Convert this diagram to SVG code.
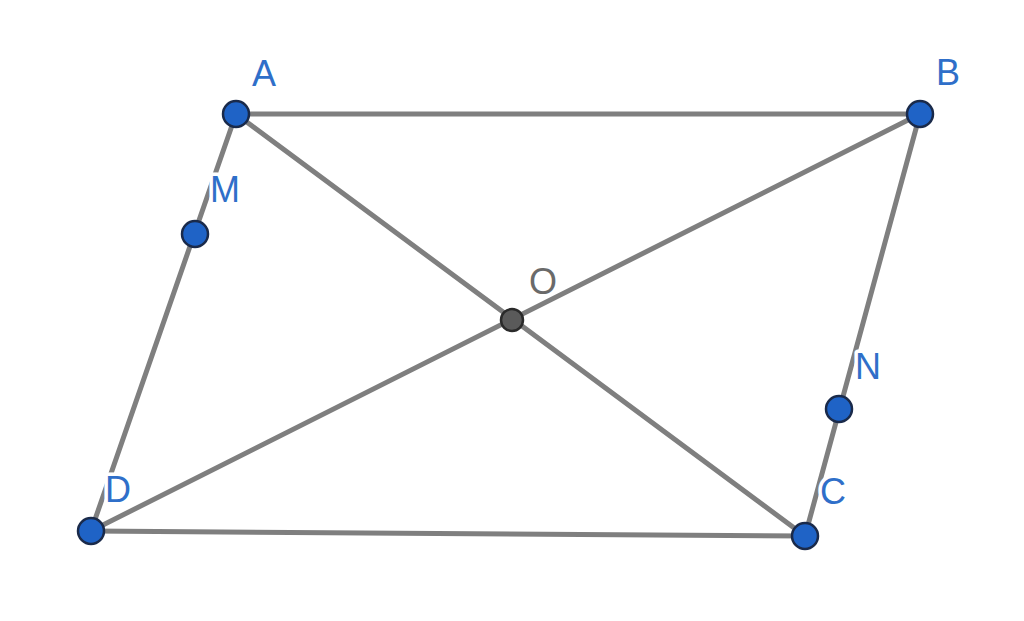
<svg xmlns="http://www.w3.org/2000/svg" width="1024" height="621" viewBox="0 0 1024 621">
<style>
.l{stroke:#7f7f7f;stroke-width:5;stroke-linecap:round;fill:none}
.p{fill:#1f63c6;stroke:#1a2a4a;stroke-width:2.5}
.t{font-family:"Liberation Sans",Arial,sans-serif;font-size:36px;fill:#2f6fc9;text-anchor:middle;stroke:#fff;stroke-width:7;paint-order:stroke;stroke-linejoin:round}
</style>
<rect width="1024" height="621" fill="#fff"/>
<g id="connectors">
<line class="l" x1="236" y1="114" x2="920" y2="114"/>
<line class="l" x1="920" y1="114" x2="805" y2="536"/>
<line class="l" x1="805" y1="536" x2="91" y2="531"/>
<line class="l" x1="91" y1="531" x2="236" y2="114"/>
<line class="l" x1="236" y1="114" x2="805" y2="536"/>
<line class="l" x1="920" y1="114" x2="91" y2="531"/>
</g>
<g id="A"><circle class="p" cx="236" cy="114" r="13"/><text class="t" x="264" y="86">A</text></g>
<g id="B"><circle class="p" cx="920" cy="114" r="13"/><text class="t" x="948" y="85">B</text></g>
<g id="C"><circle class="p" cx="805" cy="536" r="13"/><text class="t" x="833" y="504">C</text></g>
<g id="D"><circle class="p" cx="91" cy="531" r="13"/><text class="t" x="118" y="502">D</text></g>
<g id="M"><circle class="p" cx="195" cy="234" r="13"/><text class="t" x="225" y="202">M</text></g>
<g id="N"><circle class="p" cx="839" cy="409" r="13"/><text class="t" x="868" y="379">N</text></g>
<g id="O"><circle cx="512" cy="320" r="11" fill="#5a5a5a" stroke="#2a2a2a" stroke-width="2.5"/><text class="t" x="543" y="294" style="fill:#6a6a6a">O</text></g>
</svg>
